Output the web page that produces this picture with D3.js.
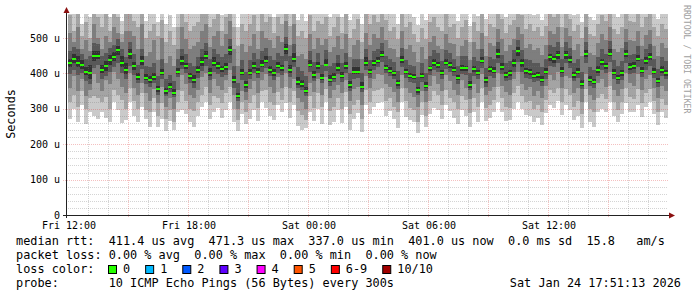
<!DOCTYPE html>
<html>
<head>
<meta charset="utf-8">
<script src="https://cdn.jsdelivr.net/npm/d3@7"></script>
<style>
body { margin: 0; background: #fff; }
svg { display: block; }
text { font-family: "DejaVu Sans Mono", monospace; fill: #000; white-space: pre; }
</style>
</head>
<body>
<div id="chart"></div>
<script>
// median rtt per 12 min step (us), Fri 12:00 -> Sat 18:00
const median = [
  428,440,430,425,405,400,448,450,410,420,437,445,466,430,410,
  455,420,390,435,388,380,390,355,402,350,362,345,405,435,420,
  392,382,410,432,450,402,430,420,412,418,465,380,335,402,368,
  400,420,405,425,435,410,400,420,415,468,410,440,376,370,350,
  425,395,420,388,425,382,390,415,392,420,366,405,403,362,428,
  404,428,435,452,416,408,400,372,437,403,392,390,352,392,365,
  414,430,425,402,430,423,410,387,415,414,368,412,402,435,380,
  412,408,456,418,396,400,428,462,428,406,403,394,395,382,405,
  445,440,451,408,451,437,395,405,370,454,382,376,410,431,420,
  456,402,386,400,455,417,420,442,408,435,445,405,378,410,401
];
// sorted pings 1..10 per step (us)
const p1 = [
  270,300,262,310,258,292,280,270,290,275,262,318,298,260,268,
  318,280,262,305,270,248,290,250,272,238,265,240,292,298,285,
  262,250,280,305,320,270,290,302,275,298,320,262,238,285,258,
  270,298,265,318,302,280,268,310,290,315,275,312,252,240,245,
  292,265,300,258,318,255,262,298,260,305,240,272,288,235,310,
  285,305,315,318,280,295,270,245,320,278,268,262,232,282,250,
  285,302,298,272,310,295,275,258,298,280,248,292,262,318,265,
  275,290,318,292,265,268,300,320,300,282,280,262,275,255,288,
  310,302,322,282,312,298,268,280,245,318,262,250,290,300,290,
  320,280,262,285,315,292,290,312,278,305,318,285,255,290,275
];
const p2 = [
  320,340,305,350,300,330,335,330,318,332,300,352,340,325,300,
  360,322,300,345,298,290,330,280,315,270,298,262,320,350,322,
  300,295,318,340,362,310,335,330,315,345,362,300,268,318,290,
  315,340,302,350,352,320,310,348,325,362,320,350,295,282,268,
  335,302,345,305,355,295,305,330,300,348,285,310,325,270,352,
  318,350,352,360,322,330,305,290,358,322,302,298,262,320,280,
  322,350,338,310,352,330,318,300,335,325,288,330,305,360,302,
  312,325,362,330,305,302,345,365,335,318,322,300,310,292,325,
  352,345,360,318,355,340,305,322,285,355,300,290,330,342,328,
  365,318,298,320,360,332,328,355,315,345,355,322,292,328,312
];
const p3 = [
  360,392,350,385,335,352,398,372,350,380,370,405,385,362,345,
  400,360,340,372,345,322,355,315,362,305,330,300,352,395,370,
  340,330,352,390,400,345,385,365,352,380,410,340,300,350,325,
  355,378,345,380,398,362,345,390,358,400,360,385,330,318,300,
  372,348,385,340,390,330,352,368,345,380,322,355,362,310,392,
  360,385,398,395,370,362,348,320,395,360,345,332,305,350,318,
  365,392,370,350,395,378,352,338,380,358,328,370,345,398,340,
  350,362,400,365,348,340,385,405,370,352,362,335,350,330,365,
  395,380,405,360,392,388,345,358,318,398,340,325,372,385,362,
  405,352,335,355,400,372,365,398,352,385,395,360,330,365,350
];
const p4 = [
  398,410,395,402,378,370,415,425,385,392,405,418,430,400,385,
  420,395,372,412,370,362,372,340,385,335,348,332,390,412,400,
  372,360,388,408,422,380,405,398,390,395,428,358,322,382,348,
  385,400,388,405,415,392,382,402,395,435,390,418,358,352,335,
  405,378,402,372,408,365,375,398,375,400,350,385,388,348,410,
  388,410,418,432,400,392,385,355,418,388,375,372,338,375,350,
  395,410,405,385,412,405,392,370,398,395,352,392,385,415,362,
  392,388,428,398,378,382,405,432,405,388,385,375,378,365,385,
  422,418,428,390,428,415,378,388,355,428,365,360,392,410,400,
  432,385,370,382,430,398,400,418,390,410,422,388,362,392,385
];
const p5 = [
  418,428,418,412,395,385,435,440,400,408,425,435,452,418,398,
  442,410,382,425,380,372,382,348,395,342,355,338,398,425,412,
  385,372,402,422,440,392,420,412,404,410,452,372,330,395,360,
  395,412,398,418,428,402,392,414,408,455,402,432,368,362,344,
  418,388,412,382,420,375,385,408,386,412,360,398,398,356,422,
  398,420,428,445,410,402,394,365,430,397,386,384,346,386,358,
  406,422,416,395,423,415,403,380,408,406,360,404,395,428,372,
  403,400,444,410,388,392,418,450,418,398,396,386,388,375,397,
  436,430,442,400,442,428,388,398,363,445,375,370,402,424,412,
  448,395,380,392,446,410,412,434,400,426,438,398,372,402,394
];
const p6 = [
  442,455,448,438,418,425,462,462,425,435,452,460,478,448,428,
  470,432,400,448,398,392,402,365,412,360,372,355,415,448,430,
  402,395,420,445,462,415,445,432,422,430,478,392,345,412,378,
  412,432,415,438,448,422,412,432,425,482,425,458,390,382,362,
  438,408,432,398,440,395,402,428,405,432,378,418,418,375,445,
  412,438,445,462,425,418,408,382,448,412,400,398,362,402,375,
  422,440,432,410,440,432,418,395,425,422,378,420,410,445,390,
  420,418,468,428,405,410,440,475,440,415,412,402,405,392,415,
  455,450,462,418,462,448,405,415,380,465,392,385,420,442,430,
  468,412,395,410,465,428,432,452,418,445,458,415,388,420,410
];
const p7 = [
  462,475,470,455,440,450,485,482,448,458,472,480,498,468,445,
  490,455,425,470,422,418,428,392,440,385,395,378,440,470,455,
  428,420,445,470,485,440,468,455,445,455,498,420,372,438,405,
  438,458,442,462,472,448,438,458,450,502,450,482,418,408,392,
  462,432,458,425,465,420,428,452,430,458,402,442,442,400,470,
  438,462,468,485,450,442,432,408,472,438,425,422,390,428,400,
  448,465,458,435,465,458,442,420,450,448,402,445,435,470,415,
  445,442,490,452,430,435,465,495,465,440,438,428,430,418,440,
  480,475,488,442,488,472,430,440,405,490,418,410,445,468,455,
  492,438,420,435,490,452,455,478,442,470,482,440,412,445,435
];
const p8 = [
  515,490,530,470,495,462,540,500,470,505,488,530,515,490,520,
  520,505,470,540,450,460,495,438,500,430,450,420,470,530,498,
  470,478,490,520,540,475,505,520,478,510,548,470,420,482,460,
  478,510,470,520,500,495,472,505,490,548,480,540,450,455,440,
  510,470,500,480,498,460,475,505,470,512,445,480,495,440,515,
  480,510,500,530,495,472,470,445,520,470,480,460,432,475,440,
  490,505,478,470,512,485,482,450,478,495,438,490,468,515,448,
  485,478,525,498,462,480,498,530,510,472,482,465,472,452,480,
  520,510,530,475,528,505,465,482,448,530,458,452,485,510,495,
  530,470,460,472,525,495,492,520,478,508,522,478,450,485,472
];
const p9 = [
  565,520,575,505,545,500,580,560,530,575,520,575,560,512,575,
  575,548,530,580,500,520,540,505,550,490,520,480,530,575,545,
  520,535,545,568,580,530,555,575,520,560,580,530,478,540,520,
  540,565,520,580,545,560,515,560,540,580,535,580,505,520,500,
  565,520,548,540,560,505,530,560,515,570,500,525,555,490,575,
  540,565,545,580,550,520,530,498,575,530,545,510,490,528,498,
  545,558,532,520,568,530,540,500,530,550,488,545,520,575,505,
  540,530,575,555,515,538,550,580,565,525,540,520,530,505,535,
  570,560,580,530,575,555,520,538,500,580,512,505,540,565,548,
  580,525,512,530,578,548,545,570,530,560,575,530,505,540,525
];
const p10 = [
  580,575,580,540,580,560,580,580,572,580,560,580,580,548,580,
  580,578,575,580,548,570,578,545,580,540,565,530,575,580,580,
  570,580,580,580,580,572,580,580,565,580,580,575,530,580,572,
  580,580,570,580,580,580,560,580,580,580,575,580,550,575,548,
  580,575,580,580,580,560,575,580,560,580,550,570,580,540,580,
  580,580,580,580,580,570,578,540,580,575,580,560,538,575,550,
  580,580,575,570,580,575,580,548,572,580,535,580,562,580,555,
  580,575,580,580,560,580,580,580,580,570,580,565,578,552,580,
  580,580,580,575,580,580,565,580,545,580,560,550,580,580,580,
  580,572,560,578,580,580,580,580,575,580,580,575,555,580,570
];

const yTicks = [0, 100, 200, 300, 400, 500];
const yLabels = ["0", "100 u", "200 u", "300 u", "400 u", "500 u"];
const xLabels = ["Fri 12:00", "Fri 18:00", "Sat 00:00", "Sat 06:00", "Sat 12:00"];
const lossLabels = ["0", "1", "2", "3", "4", "5", "6-9", "10/10"];
const lossColors = ["#26ff00", "#00b8ff", "#0059ff", "#5e00ff", "#ff00ff", "#ff5500", "#ff0000", "#a10000"];
const smokeColors = ["#cacaca", "#a4a4a4", "#7e7e7e", "#585858", "#323232"];
const legendRtt = "median rtt:  411.4 us avg  471.3 us max  337.0 us min  401.0 us now  0.0 ms sd  15.8   am/s";
const legendLoss = "packet loss: 0.00 % avg  0.00 % max  0.00 % min  0.00 % now";
const legendProbe = "probe:       10 ICMP Echo Pings (56 Bytes) every 300s";
const stamp = "Sat Jan 24 17:51:13 2026";

const W = 697, H = 297;
const plot = { left: 68, right: 668, top: 14, bottom: 215 };
const t0 = new Date(2026, 0, 23, 12), t1 = new Date(2026, 0, 24, 18);
const stepMs = 12 * 60 * 1000;

const x = d3.scaleTime().domain([t0, t1]).range([plot.left, plot.right]);
const y = d3.scaleLinear().domain([0, 500]).range([215, 38]);
const tAt = i => new Date(t0.getTime() + i * stepMs);

const svg = d3.select('#chart').append('svg')
    .attr('width', W)
    .attr('height', H);

svg.append('defs').append('clipPath').attr('id', 'clip')
    .append('rect')
    .attr('x', plot.left - 1).attr('y', plot.top)
    .attr('width', plot.right - plot.left + 1).attr('height', plot.bottom - plot.top);

const g = svg.append('g').attr('clip-path', 'url(#clip)');

// smoke: pairs of pings from outside in
const bands = [[p1, p10], [p2, p9], [p3, p8], [p4, p7], [p5, p6]];
bands.forEach((b, k) => {
    g.append('g')
        .attr('fill', smokeColors[k])
        .attr('shape-rendering', 'crispEdges')
        .selectAll('rect')
        .data(median)
        .enter()
        .append('rect')
        .attr('x', (d, i) => x(tAt(i)))
        .attr('width', (d, i) => x(tAt(i + 1)) - x(tAt(i)))
        .attr('y', (d, i) => y(b[1][i]))
        .attr('height', (d, i) => y(b[0][i]) - y(b[1][i]));
});

// median markers
g.append('g')
    .attr('fill', lossColors[0])
    .attr('shape-rendering', 'crispEdges')
    .selectAll('rect')
    .data(median)
    .enter()
    .append('rect')
    .attr('x', (d, i) => x(tAt(i)))
    .attr('width', (d, i) => x(tAt(i + 1)) - x(tAt(i)))
    .attr('y', d => Math.round(y(d)) - 1)
    .attr('height', 2);

// grid on top
const grid = svg.append('g').attr('stroke-dasharray', '1,1').attr('stroke-width', 1);
const minorY = d3.range(20, 570, 20).filter(v => v % 100 !== 0);
const majorY = yTicks.filter(v => v > 0);
const px = v => Math.round(v) + 0.5;
const minorCol = 'rgba(120,120,120,0.32)';
const majorCol = 'rgba(220,60,60,0.32)';

grid.selectAll('.minY').data(minorY).enter().append('line')
    .attr('x1', plot.left).attr('x2', plot.right)
    .attr('y1', d => px(y(d))).attr('y2', d => px(y(d)))
    .attr('stroke', minorCol);

const hours = d3.timeHour.range(d3.timeHour.offset(t0, 1), t1);
grid.selectAll('.minX').data(hours.filter(h => h.getHours() % 3 !== 0)).enter().append('line')
    .attr('x1', d => px(x(d))).attr('x2', d => px(x(d)))
    .attr('y1', plot.top).attr('y2', plot.bottom)
    .attr('stroke', minorCol);

grid.selectAll('.majY').data(majorY).enter().append('line')
    .attr('x1', plot.left - 5).attr('x2', plot.right)
    .attr('y1', d => px(y(d))).attr('y2', d => px(y(d)))
    .attr('stroke', majorCol);

grid.selectAll('.majX').data(hours.filter(h => h.getHours() % 3 === 0)).enter().append('line')
    .attr('x1', d => px(x(d))).attr('x2', d => px(x(d)))
    .attr('y1', plot.top).attr('y2', plot.bottom + 3)
    .attr('stroke', majorCol);

// axes
svg.append('line')
    .attr('x1', 63).attr('x2', 670)
    .attr('y1', 215.5).attr('y2', 215.5)
    .attr('stroke', '#222');
svg.append('line')
    .attr('x1', 66.5).attr('x2', 66.5)
    .attr('y1', 218).attr('y2', 12)
    .attr('stroke', '#222');
svg.append('path')
    .attr('d', 'M66.5,7 L63.5,13 L69.5,13 Z')
    .attr('fill', '#8b1010');
svg.append('path')
    .attr('d', 'M675,215.5 L669,212.5 L669,218.5 Z')
    .attr('fill', '#8b1010');

// y labels
svg.append('g').selectAll('text').data(yTicks).enter().append('text')
    .attr('x', 60)
    .attr('y', d => y(d) + 3.6)
    .attr('text-anchor', 'end')
    .attr('font-size', '10px')
    .text((d, i) => yLabels[i]);

// x labels
const xTicks = d3.timeHour.every(6).range(t0, t1);
svg.append('g').selectAll('text').data(xTicks).enter().append('text')
    .attr('x', d => x(d) + 1)
    .attr('y', 228.5)
    .attr('text-anchor', 'middle')
    .attr('font-size', '10px')
    .text((d, i) => xLabels[i]);

svg.append('text')
    .attr('transform', 'translate(15,114) rotate(-90)')
    .attr('text-anchor', 'middle')
    .attr('font-size', '11.8px')
    .text('Seconds');

svg.append('text')
    .attr('transform', 'translate(684,5) rotate(90)')
    .attr('font-size', '8.2px')
    .style('fill', '#a0a0a0')
    .text('RRDTOOL / TOBI OETIKER');

// legend
const leg = svg.append('g').attr('font-size', '11.85px');
leg.append('text').attr('x', 16).attr('y', 245).text(legendRtt);
leg.append('text').attr('x', 16).attr('y', 259).text(legendLoss);
leg.append('text').attr('x', 16).attr('y', 273).text('loss color:');
leg.append('text').attr('x', 16).attr('y', 287).text(legendProbe);
leg.append('text').attr('x', 681).attr('y', 287).attr('text-anchor', 'end').text(stamp);

let sx = 108;
lossLabels.forEach((lab, i) => {
    leg.append('rect')
        .attr('x', sx + 0.5).attr('y', 265.5)
        .attr('width', 8).attr('height', 8)
        .attr('fill', lossColors[i])
        .attr('stroke', '#000');
    const t = leg.append('text').attr('x', sx + 15).attr('y', 273).text(lab);
    sx += 15 + t.node().getComputedTextLength() + 15;
});
</script>
</body>
</html>
